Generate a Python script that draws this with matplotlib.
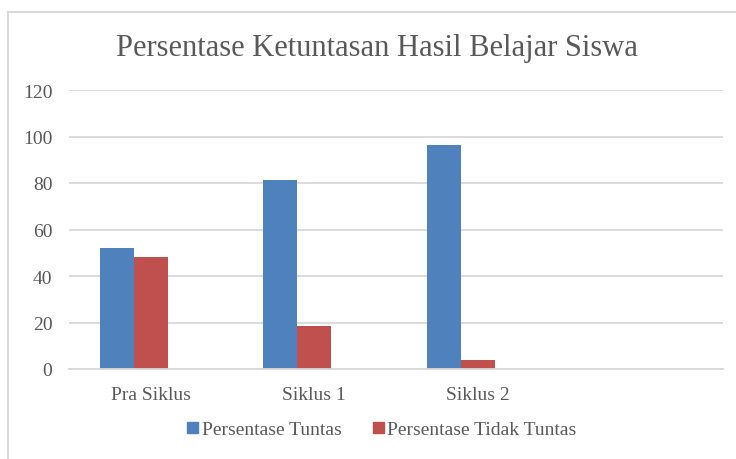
import numpy as np
import matplotlib.pyplot as plt
from matplotlib.lines import Line2D
from matplotlib.patches import Patch

# Data (27 siswa)
categories = ['Pra Siklus', 'Siklus 1', 'Siklus 2', '']
tuntas = [51.85, 81.48, 96.30, np.nan]
tidak_tuntas = [48.15, 18.52, 3.70, np.nan]
y_ticks = [0, 20, 40, 60, 80, 100, 120]

blue = '#4F81BD'
red = '#C0504D'
grid_col = '#D9D9D9'
text_col = '#595959'

plt.rcParams['font.family'] = ['Liberation Serif', 'DejaVu Serif']

fig = plt.figure(figsize=(7.36, 4.6), dpi=100)
ax = fig.add_axes([69 / 736, 1 - 370 / 460, (723 - 69) / 736, (370 - 91) / 460])

x = np.arange(len(categories))
w = 0.625 / 3
# three slots per group, the third series is empty
ax.bar(x - w, tuntas, w, color=blue, label='Persentase Tuntas')
ax.bar(x, tidak_tuntas, w, color=red, label='Persentase Tidak Tuntas')

ax.set_xlim(-0.5, len(categories) - 0.5)
ax.set_ylim(0, 120)
ax.set_yticks(y_ticks)
ax.set_xticks(x)
ax.set_xticklabels(categories)
ax.yaxis.grid(True, color=grid_col, linewidth=1.3)
ax.set_axisbelow(True)
for s in ['top', 'right', 'left']:
    ax.spines[s].set_visible(False)
ax.spines['bottom'].set_color(grid_col)
ax.spines['bottom'].set_linewidth(1.3)
ax.tick_params(axis='both', length=0, labelsize=14, colors=text_col)
ax.tick_params(axis='y', pad=12)
ax.tick_params(axis='x', pad=12)

fig.text(0.512, 1 - 49 / 460, 'Persentase Ketuntasan Hasil Belajar Siswa',
         ha='center', va='center', fontsize=22, color=text_col)

handles = [Patch(color=blue), Patch(color=red)]
fig.legend(handles, ['Persentase Tuntas', 'Persentase Tidak Tuntas'],
           loc='center', bbox_to_anchor=(382 / 736, 1 - 431 / 460), ncol=2,
           frameon=False, fontsize=14, labelcolor=text_col,
           handlelength=0.55, handleheight=0.55, handletextpad=0.2, columnspacing=1.6)

# chart border (left and top visible)
fig.add_artist(Line2D([8 / 736, 8 / 736], [0, 1 - 13 / 460], color=grid_col, linewidth=1.5))
fig.add_artist(Line2D([8 / 736, 1], [1 - 13 / 460, 1 - 13 / 460], color=grid_col, linewidth=1.5))

plt.savefig('out.png', dpi=100)
plt.close()
